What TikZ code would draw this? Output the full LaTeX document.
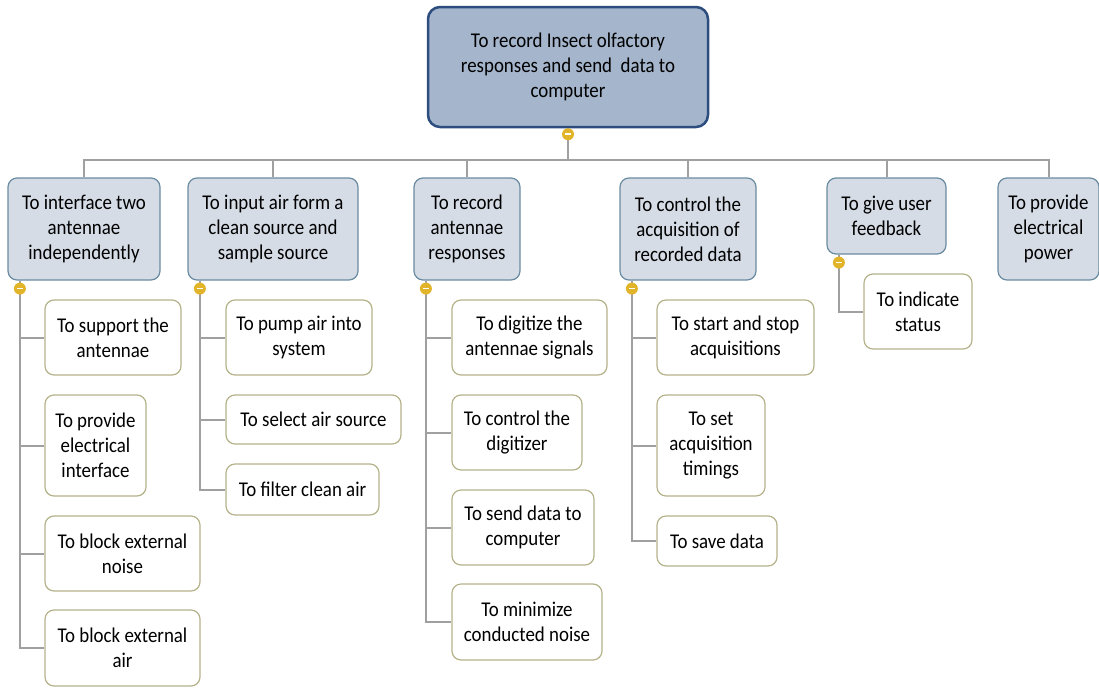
\documentclass[tikz,border=0pt]{standalone}
\usepackage{fontspec}
\setmainfont{Carlito}[FakeStretch=0.9]
\definecolor{rootfill}{HTML}{A4B5CC}
\definecolor{rootborder}{HTML}{2C4D7E}
\definecolor{childfill}{HTML}{D5DCE6}
\definecolor{childborder}{HTML}{6A8CA0}
\definecolor{leafborder}{HTML}{B5B28A}
\definecolor{linkgray}{HTML}{A0A0A0}
\definecolor{knobyellow}{HTML}{E2B42A}
\begin{document}
\begin{tikzpicture}[x=1pt,y=-1pt,
  base/.style={rounded corners=9pt, align=center, inner sep=0pt, font=\fontsize{21}{25}\selectfont, line width=1.2pt},
  rootbox/.style={base, draw=rootborder, fill=rootfill, line width=2.5pt, rounded corners=12pt},
  childbox/.style={base, draw=childborder, fill=childfill},
  leafbox/.style={base, draw=leafborder, fill=white},
  link/.style={draw=linkgray, line width=2pt},
  knob/.style={circle, fill=knobyellow, inner sep=0pt, minimum size=12pt,
    path picture={\draw[white, line width=1.6pt] ([xshift=-3pt]path picture bounding box.center) -- ([xshift=3pt]path picture bounding box.center);}}
]
\useasboundingbox (0,0) rectangle (1099,688);

% root
\node[rootbox, minimum width=280pt, minimum height=120pt] (root) at (568,67) {To record Insect olfactory\\responses and send\ \ data to\\computer};
\coordinate (bus) at (568,160);

% children
\node[childbox, minimum width=152pt, minimum height=102pt] (c1) at (84,229) {To interface two\\antennae\\independently};
\node[childbox, minimum width=170pt, minimum height=102pt] (c2) at (273,229) {To input air form a\\clean source and\\sample source};
\node[childbox, minimum width=106pt, minimum height=102pt] (c3) at (467,229) {To record\\antennae\\responses};
\node[childbox, minimum width=136pt, minimum height=102pt] (c4) at (688,229) {To control the\\acquisition of\\recorded data};
\node[childbox, minimum width=119pt, minimum height=76pt] (c5) at (886.5,216) {To give user\\feedback};
\node[childbox, minimum width=101pt, minimum height=102pt] (c6) at (1048.5,229) {To provide\\electrical\\power};

% leaves
\node[leafbox, minimum width=136pt, minimum height=75pt] (l11) at (113,337.5) {To support the\\antennae};
\node[leafbox, minimum width=101pt, minimum height=101pt] (l12) at (95.5,445.5) {To provide\\electrical\\interface};
\node[leafbox, minimum width=155pt, minimum height=75pt] (l13) at (122.5,553.5) {To block external\\noise};
\node[leafbox, minimum width=155pt, minimum height=76pt] (l14) at (122.5,648) {To block external\\air};

\node[leafbox, minimum width=146pt, minimum height=75pt] (l21) at (299,337.5) {To pump air into\\system};
\node[leafbox, minimum width=175pt, minimum height=49pt] (l22) at (313.5,419.5) {To select air source};
\node[leafbox, minimum width=153pt, minimum height=51pt] (l23) at (302.5,489.5) {To filter clean air};

\node[leafbox, minimum width=155pt, minimum height=75pt] (l31) at (529.5,337.5) {To digitize the\\antennae signals};
\node[leafbox, minimum width=130pt, minimum height=75pt] (l32) at (517,432.5) {To control the\\digitizer};
\node[leafbox, minimum width=142pt, minimum height=75pt] (l33) at (523,527.5) {To send data to\\computer};
\node[leafbox, minimum width=150pt, minimum height=76pt] (l34) at (527,622) {To minimize\\conducted noise};

\node[leafbox, minimum width=157pt, minimum height=75pt] (l41) at (735.5,337.5) {To start and stop\\acquisitions};
\node[leafbox, minimum width=108pt, minimum height=101pt] (l42) at (711,445.5) {To set\\acquisition\\timings};
\node[leafbox, minimum width=120pt, minimum height=50pt] (l43) at (717,541) {To save data};

\node[leafbox, minimum width=108pt, minimum height=75pt] (l51) at (918,311.5) {To indicate\\status};

% connectors root -> children
\draw[link] (root.south) -- (bus);
\foreach \c in {c1,c2,c3,c4,c5,c6} \draw[link] (\c.north) |- (bus);

% connectors children -> leaves
\foreach \c/\l in {c1/l11,c1/l12,c1/l13,c1/l14,c2/l21,c2/l22,c2/l23,c3/l31,c3/l32,c3/l33,c3/l34,c4/l41,c4/l42,c4/l43,c5/l51}
  \draw[link] ([xshift=12.5pt]\c.south west) |- (\l.west);

% knobs
\node[knob] (kroot) at ([yshift=-6pt]root.south) {};
\foreach \c in {c1,c2,c3,c4,c5}
  \node[knob] (k\c) at ([xshift=12.5pt,yshift=-8pt]\c.south west) {};
\end{tikzpicture}
\end{document}
